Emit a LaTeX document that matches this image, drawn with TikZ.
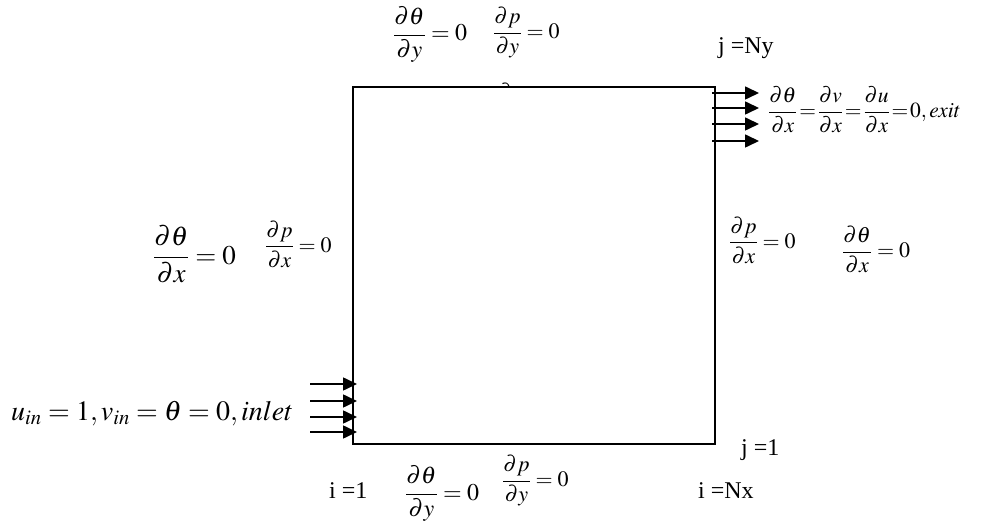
\documentclass[tikz,border=0pt]{standalone}
\usepackage{mathptmx}
\usepackage[no-math]{fontspec}
\setmainfont{Liberation Serif}
\usepackage{amsmath}
\usetikzlibrary{arrows.meta}
\tikzset{
  lbl/.style={inner sep=0pt, anchor=base west},
  flow/.style={line width=1.6pt, -{Triangle[length=14pt,width=13pt]}},
  wall/.style={draw, line width=1.8pt, inner sep=0pt}
}
\newcommand{\fsz}[1]{\fontsize{#1}{#1}\selectfont}
\begin{document}
\begin{tikzpicture}[x=1pt,y=-1pt]
\useasboundingbox (0,0) rectangle (1003,529);
% partial symbol peeking above the top wall
\begin{scope}
\clip (490,70) rectangle (530,86);
\node[lbl] (stray) at (498,100) {\fsz{22}$\partial$};
\end{scope}
% domain
\node[wall, minimum width=362pt, minimum height=357pt, anchor=north west] (dom) at (352,86) {};
% top
\node[lbl] (topT) at (393,41) {\fsz{24}$\dfrac{\partial\theta}{\partial y}=0$};
\node[lbl] (topP) at (493,38.5) {\fsz{22}$\dfrac{\partial p}{\partial y}=0$};
\node[lbl] (jNy) at (718,54) {\fsz{24}j =Ny};
% exit
\node[lbl] (exit) at (768,117.5) {\fsz{21.5}\thickmuskip=1.5mu$\dfrac{\partial\theta}{\partial x}=\dfrac{\partial v}{\partial x}=\dfrac{\partial u}{\partial x}=0,exit$};
\foreach \i/\yy in {1/93,2/108,3/124,4/141}{
  \coordinate (es\i) at (712,\yy);
  \coordinate (et\i) at (759,\yy);
  \draw[flow] (es\i) -- (et\i);
}
% left
\node[lbl] (leftT) at (153,264) {\fsz{27}$\dfrac{\partial\theta}{\partial x}=0$};
\node[lbl] (leftP) at (265,252) {\fsz{22}$\dfrac{\partial p}{\partial x}=0$};
% right
\node[lbl] (rightP) at (729,248) {\fsz{22}$\dfrac{\partial p}{\partial x}=0$};
\node[lbl] (rightT) at (842,257.5) {\fsz{22}$\dfrac{\partial\theta}{\partial x}=0$};
% inlet
\node[lbl] (inlet) at (11,420) {\fsz{28}$u_{in}=1,v_{in}=\theta=0,inlet$};
\foreach \i/\yy in {1/384,2/401,3/417,4/432}{
  \coordinate (is\i) at (310,\yy);
  \coordinate (it\i) at (357,\yy);
  \draw[flow] (is\i) -- (it\i);
}
% bottom
\node[lbl] (i1) at (329,498) {\fsz{24}i =1};
\node[lbl] (botT) at (405,500) {\fsz{24}$\dfrac{\partial\theta}{\partial y}=0$};
\node[lbl] (botP) at (502,486.5) {\fsz{22}$\dfrac{\partial p}{\partial y}=0$};
\node[lbl] (iNx) at (698,498) {\fsz{24}i =Nx};
\node[lbl] (j1) at (741,455) {\fsz{24}j =1};
\end{tikzpicture}
\end{document}
